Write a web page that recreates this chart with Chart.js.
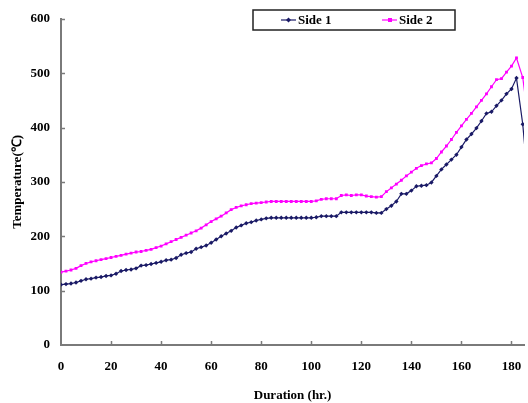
<!DOCTYPE html>
<html>
<head>
<meta charset="utf-8">
<script src="https://cdn.jsdelivr.net/npm/chart.js@4/dist/chart.umd.min.js"></script>
<style>
html,body{margin:0;padding:0;background:#fff;}
#wrap{position:relative;width:528px;height:403px;}
</style>
</head>
<body>
<div id="wrap"><canvas id="c" width="528" height="403"></canvas></div>
<script>
// Duration (hr.) for each reading
const hours = [0,2,4,6,8,10,12,14,16,18,20,22,24,26,28,30,32,34,36,38,40,42,44,46,48,50,52,54,56,58,60,62,64,66,68,70,72,74,76,78,80,82,84,86,88,90,92,94,96,98,100,102,104,106,108,110,112,114,116,118,120,122,124,126,128,130,132,134,136,138,140,142,144,146,148,150,152,154,156,158,160,162,164,166,168,170,172,174,176,178,180,182];
const side1 = [111,112,113,115,118,121,122,124,125,127,128,131,136,138,139,141,146,147,149,151,153,156,157,160,166,169,171,177,180,183,188,194,200,205,210,216,220,224,226,229,231,233,234,234,234,234,234,234,234,234,234,235,237,237,237,237,244,244,244,244,244,244,244,243,243,250,256,264,278,278,284,292,293,294,299,311,323,332,341,350,364,378,388,399,412,426,429,440,450,462,471,491];
const side2 = [134,136,138,141,146,150,153,155,157,159,161,163,165,167,169,171,172,174,176,179,182,186,190,194,198,202,206,210,215,221,227,232,237,243,249,253,256,258,260,261,262,263,264,264,264,264,264,264,264,264,264,265,268,269,269,269,275,276,275,276,276,274,273,272,273,282,289,296,303,311,318,325,330,333,335,343,355,366,378,391,403,415,426,438,450,462,475,488,490,502,513,528];
// readings after the peak (cooling)
const tailHours1 = [184.5,186];
const tailSide1 = [406,330];
const tailHours2 = [184.5,186];
const tailSide2 = [492,438];
const xTicks = [0,20,40,60,80,100,120,140,160,180];
const yTicks = [0,100,200,300,400,500,600];
const seriesNames = ['Side 1','Side 2'];

const NAVY = '#1a1a66';
const PINK = '#ff00ff';
const AXIS = '#7a7a7a';
const FONT = "'Liberation Serif', 'Times New Roman', serif";

function pts(h, v){ return h.map((x,i)=>({x:x, y:v[i]})); }
const d1 = pts(hours, side1).concat(pts(tailHours1, tailSide1));
const d2 = pts(hours, side2).concat(pts(tailHours2, tailSide2));

const extras = {
  id:'extras',
  afterDraw(chart){
    const ctx = chart.ctx;
    const xs = chart.scales.x, ys = chart.scales.y;
    const ca = chart.chartArea;
    ctx.save();
    ctx.strokeStyle = AXIS; ctx.lineWidth = 1.5;
    // inside tick marks
    xTicks.forEach(t=>{ if(t===0) return; const px = Math.round(xs.getPixelForValue(t))+0.5;
      ctx.beginPath(); ctx.moveTo(px, ca.bottom); ctx.lineTo(px, ca.bottom-4); ctx.stroke(); });
    yTicks.forEach(t=>{ if(t===0) return; const py = Math.round(ys.getPixelForValue(t))+0.5;
      ctx.beginPath(); ctx.moveTo(ca.left, py); ctx.lineTo(ca.left+4, py); ctx.stroke(); });
    // legend box
    const bx = 253, by = 10, bw = 202, bh = 20;
    ctx.fillStyle = '#fff'; ctx.fillRect(bx,by,bw,bh);
    ctx.strokeStyle = '#222'; ctx.lineWidth = 1.5; ctx.strokeRect(bx,by,bw,bh);
    const items = [{x:281, c:NAVY, s:'d'},{x:382, c:PINK, s:'s'}];
    ctx.font = "bold 13px " + FONT; ctx.textBaseline = 'middle';
    items.forEach((it,i)=>{
      const cy = by + bh/2;
      ctx.strokeStyle = it.c; ctx.lineWidth = 1.2;
      ctx.beginPath(); ctx.moveTo(it.x, cy); ctx.lineTo(it.x+15, cy); ctx.stroke();
      ctx.fillStyle = it.c;
      if(it.s==='s'){ ctx.fillRect(it.x+6, cy-2, 4, 4); }
      else { ctx.beginPath(); ctx.moveTo(it.x+7.5, cy-2.5); ctx.lineTo(it.x+10, cy); ctx.lineTo(it.x+7.5, cy+2.5); ctx.lineTo(it.x+5, cy); ctx.closePath(); ctx.fill(); }
      ctx.fillStyle = '#000'; ctx.textAlign = 'left';
      ctx.fillText(seriesNames[i], it.x+17, cy+1);
    });
    ctx.restore();
  }
};

new Chart(document.getElementById('c'), {
  type:'line',
  data:{ datasets:[
    {label:seriesNames[0], data:d1, borderColor:NAVY, backgroundColor:NAVY, borderWidth:1.2,
     pointStyle:'rectRot', pointRadius:2.2, pointBorderWidth:0, tension:0},
    {label:seriesNames[1], data:d2, borderColor:PINK, backgroundColor:PINK, borderWidth:1.2,
     pointStyle:'rect', pointRadius:2, pointBorderWidth:0, tension:0}
  ]},
  options:{
    responsive:false, animation:false, devicePixelRatio:1,
    layout:{padding:{top:14, right:0, left:0, bottom:0}},
    plugins:{legend:{display:false}, tooltip:{enabled:false}},
    scales:{
      x:{type:'linear', min:0, max:185,
        afterBuildTicks(s){ s.ticks = xTicks.map(v=>({value:v})); },
        afterFit(s){ s.height = 58; s.paddingLeft = 0; s.paddingRight = 0; },
        grid:{display:true, drawOnChartArea:false, drawTicks:false},
        border:{display:true, color:AXIS, width:2},
        ticks:{padding:14, color:'#000', font:{family:FONT, size:13, weight:'bold'}, maxRotation:0},
        title:{display:true, text:'Duration (hr.)', color:'#000', font:{family:FONT, size:13, weight:'bold'}, padding:{top:0, bottom:0}}
      },
      y:{min:0, max:600,
        afterBuildTicks(s){ s.ticks = yTicks.map(v=>({value:v})); },
        afterFit(s){ s.width = 61; },
        grid:{display:true, drawOnChartArea:false, drawTicks:false},
        border:{display:true, color:AXIS, width:2},
        ticks:{padding:11, color:'#000', font:{family:FONT, size:13, weight:'bold'}},
        title:{display:true, text:'Temperature(℃)', color:'#000', font:{family:FONT, size:13, weight:'bold'}, padding:{top:10, bottom:0}}
      }
    }
  },
  plugins:[extras]
});
</script>
</body>
</html>
